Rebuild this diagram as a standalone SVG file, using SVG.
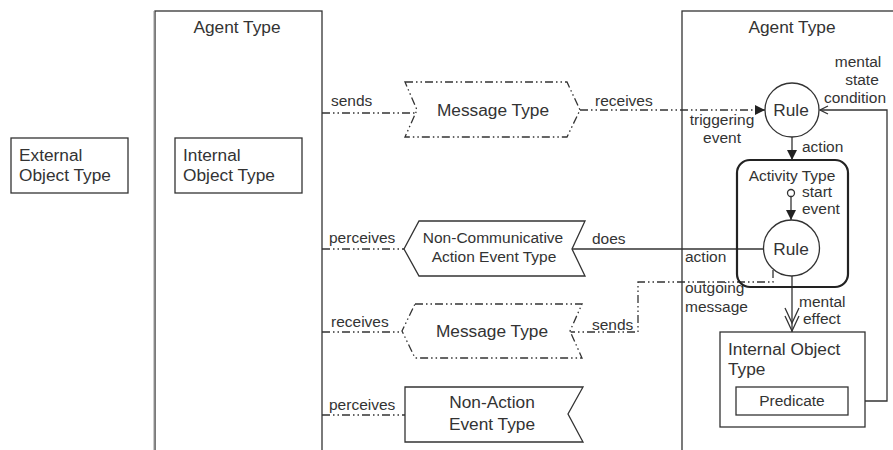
<svg xmlns="http://www.w3.org/2000/svg" width="893" height="450" viewBox="0 0 893 450">
<style>
text{font-family:"Liberation Sans",Arial,sans-serif;font-size:15.5px;fill:#333}
.m{text-anchor:middle}
.b{font-size:17.3px}
.box{fill:#fff;stroke:#333;stroke-width:1.3}
.ln{fill:none;stroke:#333;stroke-width:1.3}
.dd{fill:none;stroke:#333;stroke-width:1.3;stroke-dasharray:8 3 1.5 3 1.5 3}
.ddf{fill:#fff;stroke:#333;stroke-width:1.3;stroke-dasharray:8 3 1.5 3 1.5 3}
</style>
<defs>
<marker id="fa" viewBox="0 0 10 10" refX="10" refY="5" markerWidth="10" markerHeight="10" markerUnits="userSpaceOnUse" orient="auto"><path d="M0,0 L10,5 L0,10 z" fill="#222"/></marker>
<marker id="oa" viewBox="0 0 10 10" refX="9" refY="5" markerWidth="10" markerHeight="10" markerUnits="userSpaceOnUse" orient="auto"><path d="M1,1 L9,5 L1,9" fill="none" stroke="#333" stroke-width="1.3"/></marker>
</defs>
<rect width="893" height="450" fill="#fff"/>

<g id="agent-left">
<rect x="155" y="11" width="167" height="450" class="box"/>
<line x1="154" y1="11" x2="154" y2="450" stroke="#999" stroke-width="1"/>
<text x="237" y="33" class="m b">Agent Type</text>
</g>
<g id="agent-right">
<rect x="682" y="11" width="230" height="450" class="box"/>
<text x="792" y="33" class="m b">Agent Type</text>
</g>

<g id="external-object">
<rect x="11" y="138" width="117" height="55" class="box"/>
<text x="19" y="161" class="b">External</text>
<text x="19" y="181" class="b">Object Type</text>
</g>
<g id="internal-object-left">
<rect x="175" y="138" width="127" height="55" class="box"/>
<text x="183" y="161" class="b">Internal</text>
<text x="183" y="181" class="b">Object Type</text>
</g>

<g id="connectors">
<line x1="322" y1="113" x2="417" y2="113" class="dd"/>
<line x1="580" y1="110" x2="765" y2="110" class="dd" marker-end="url(#fa)"/>
<polyline points="848,401 887,401 887,110 820,110" class="ln" marker-end="url(#oa)"/>
<line x1="792" y1="137" x2="792" y2="160" class="ln" marker-end="url(#fa)"/>
<line x1="791" y1="197" x2="791" y2="220" class="ln" marker-end="url(#fa)"/>
<line x1="763" y1="249" x2="572" y2="249" class="ln"/>
<line x1="322" y1="249" x2="404" y2="249" class="dd"/>
<polyline points="773,270 773,282 638,282 638,332 570,332" class="dd"/>
<line x1="322" y1="332" x2="402" y2="332" class="dd"/>
<line x1="322" y1="415" x2="405" y2="415" class="dd"/>
<line x1="792" y1="276" x2="792" y2="332" class="ln"/>
<polyline points="785,316 792,331 799,316" class="ln"/>
<polyline points="785,308 792,323 799,308" class="ln"/>
</g>

<g id="labels">
<text x="331" y="106">sends</text>
<text x="595" y="106">receives</text>
<text x="858" y="67" class="m">mental</text>
<text x="862" y="85" class="m">state</text>
<text x="855" y="103" class="m">condition</text>
<text x="722" y="125" class="m">triggering</text>
<text x="722" y="143" class="m">event</text>
<text x="802" y="152">action</text>
<text x="802" y="197">start</text>
<text x="802" y="214">event</text>
<text x="329" y="243">perceives</text>
<text x="592" y="244">does</text>
<text x="685" y="262">action</text>
<text x="685" y="293">outgoing</text>
<text x="685" y="312">message</text>
<text x="331" y="327">receives</text>
<text x="592" y="330">sends</text>
<text x="799" y="307">mental</text>
<text x="803" y="324">effect</text>
<text x="329" y="410">perceives</text>
</g>

<g id="message-type-top">
<polygon points="405,82 567,82 580,110 567,137 405,137 417,110" class="ddf"/>
<text x="493" y="116" class="m b">Message Type</text>
</g>

<g id="rule-top">
<circle cx="792" cy="110" r="27" class="box"/>
<text x="791" y="116" class="m b">Rule</text>
</g>

<g id="activity-type">
<rect x="737" y="160" width="111" height="127" rx="13" ry="13" fill="none" stroke="#222" stroke-width="2.2"/>
<text x="792" y="181" class="m">Activity Type</text>
<circle cx="791" cy="193" r="3.5" fill="#fff" stroke="#333" stroke-width="1.3"/>
</g>

<g id="rule-inner">
<circle cx="791.5" cy="248" r="28" class="box"/>
<text x="791" y="255" class="m b">Rule</text>
</g>

<g id="non-communicative">
<polygon points="419,221 585,221 572,249 585,276 419,276 404,249" class="box"/>
<text x="493" y="243" class="m">Non-Communicative</text>
<text x="494" y="262" class="m">Action Event Type</text>
</g>

<g id="message-type-bottom">
<polygon points="415,304 582,304 570,331 582,358 415,358 402,331" class="ddf"/>
<text x="492" y="337" class="m b">Message Type</text>
</g>

<g id="non-action">
<polygon points="405,387 583,387 568,414 583,442 405,442" class="box"/>
<text x="492" y="408" class="m b">Non-Action</text>
<text x="492" y="430" class="m b">Event Type</text>
</g>

<g id="internal-object-right">
<rect x="720" y="332" width="145" height="95" class="box"/>
<text x="728" y="355" class="b">Internal Object</text>
<text x="728" y="375" class="b">Type</text>
</g>
<g id="predicate">
<rect x="736" y="387" width="112" height="28" class="box"/>
<text x="792" y="406" class="m">Predicate</text>
</g>
</svg>
